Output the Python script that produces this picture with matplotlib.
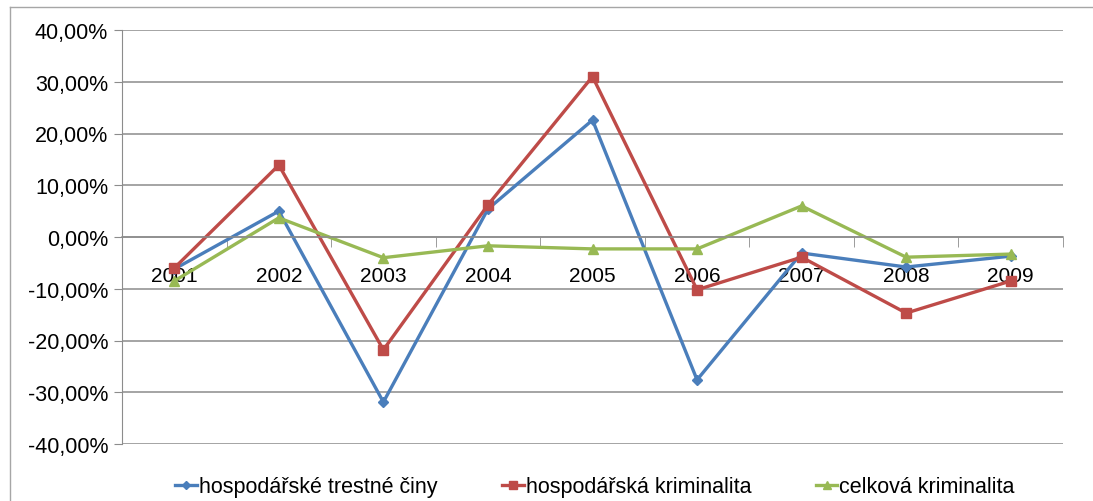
import matplotlib
matplotlib.use("Agg")
import matplotlib.pyplot as plt
from matplotlib.ticker import FuncFormatter, FixedLocator
from matplotlib.lines import Line2D

plt.rcParams['font.family'] = ['Liberation Sans', 'DejaVu Sans']

years = ['2001', '2002', '2003', '2004', '2005', '2006', '2007', '2008', '2009']
hosp_tc = [-6.2, 5.0, -31.9, 5.4, 22.6, -27.6, -3.1, -5.8, -3.7]
hosp_krim = [-6.0, 13.9, -21.8, 6.2, 31.0, -10.2, -3.9, -14.7, -8.5]
celk_krim = [-8.5, 3.7, -4.0, -1.7, -2.3, -2.3, 6.0, -3.9, -3.3]
labels = ['hospodářské trestné činy', 'hospodářská kriminalita', 'celková kriminalita']

W, H = 1093, 502
fig = plt.figure(figsize=(W / 100, H / 100), dpi=100)

# chart border (top and left edges visible)
fig.add_artist(Line2D([10 / W, 1], [1 - 8 / H, 1 - 8 / H], color='#a6a6a6', lw=1.0))
fig.add_artist(Line2D([10 / W, 10 / W], [0, 1 - 8 / H], color='#a6a6a6', lw=1.0))

ax = fig.add_axes([122 / W, 1 - 445 / H, (1063 - 122) / W, (445 - 31) / H])

x = list(range(len(years)))
ax.plot(x, hosp_tc, color='#4A7EBB', lw=2.4, marker='D', ms=5, label=labels[0])
ax.plot(x, hosp_krim, color='#BE4B48', lw=2.4, marker='s', ms=7, label=labels[1])
ax.plot(x, celk_krim, color='#98B954', lw=2.4, marker='^', ms=7, label=labels[2])

ax.set_xlim(-0.5, len(years) - 0.5)
ax.set_ylim(-40, 40)
ax.set_yticks(range(-40, 41, 10))
ax.yaxis.set_major_formatter(FuncFormatter(lambda v, p: f"{v:.2f}%".replace('.', ',')))
ax.grid(axis='y', color='#8c8c8c', lw=1.1)
ax.set_axisbelow(True)

for s in ['top', 'right']:
    ax.spines[s].set_visible(False)
ax.spines['left'].set_color('#8c8c8c')
ax.spines['bottom'].set_position(('data', 0))
ax.spines['bottom'].set_color('#8c8c8c')
ax.spines['bottom'].set_linewidth(1.1)

ax.set_xticks(x)
ax.set_xticklabels(years)
ax.xaxis.set_minor_locator(FixedLocator([i - 0.5 for i in range(len(years) + 1)]))
ax.tick_params(axis='x', which='major', length=0, pad=21, labelsize=15)
ax.tick_params(axis='x', which='minor', length=7, color='#8c8c8c', direction='out')
ax.tick_params(axis='y', length=6, color='#8c8c8c', labelsize=15.5, pad=4)

fig.legend(loc='center', bbox_to_anchor=(595 / W, 1 - 488 / H), ncol=3, frameon=False,
           fontsize=15.5, handlelength=1.0, handletextpad=0.1, columnspacing=3.0,
           markerscale=0.8)

fig.savefig('out.png', dpi=100)
